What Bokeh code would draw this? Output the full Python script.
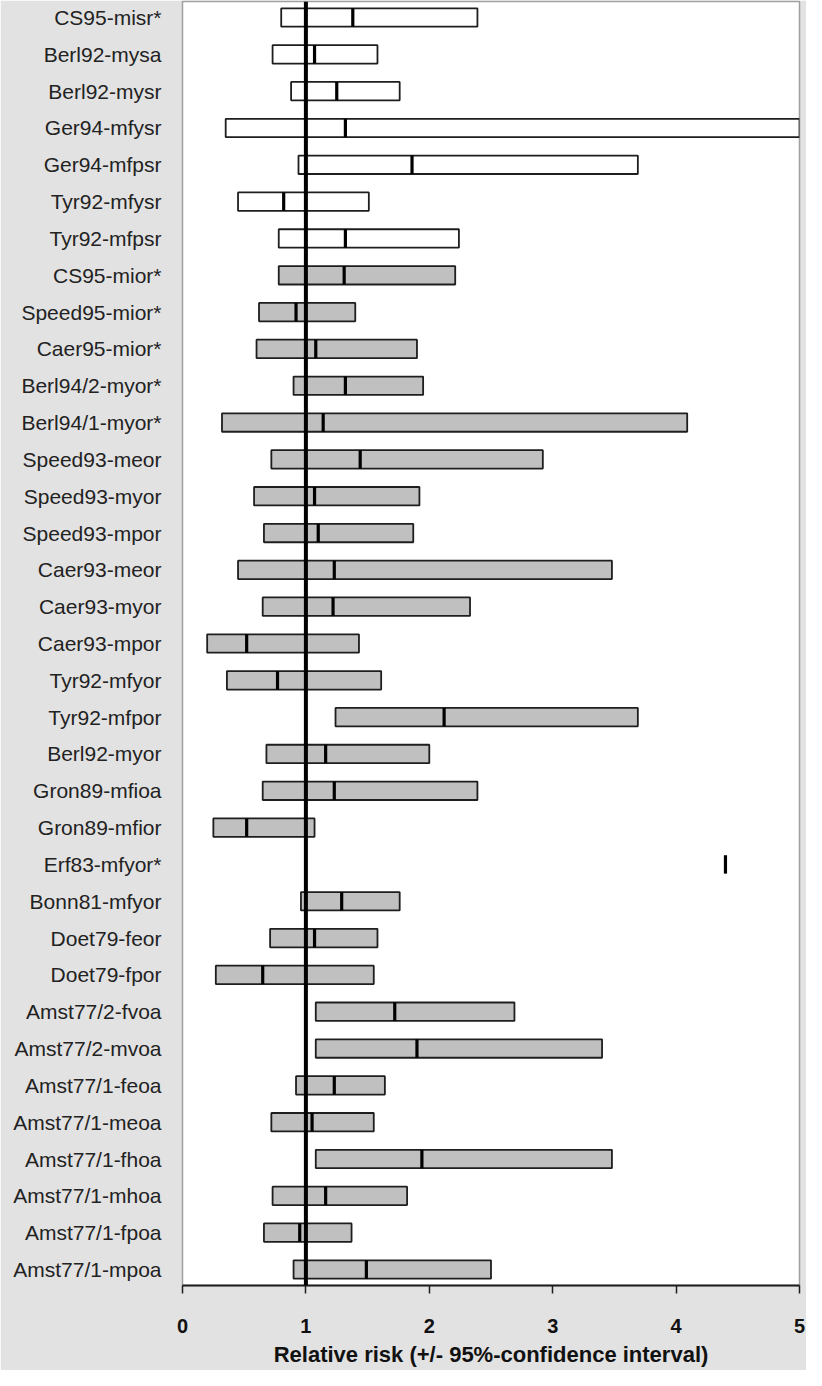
from bokeh.plotting import figure
from bokeh.models import ColumnDataSource, Range1d, FixedTicker, Span, Title
from bokeh.embed import file_html
from bokeh.resources import INLINE

labels = ["CS95-misr*", "Berl92-mysa", "Berl92-mysr", "Ger94-mfysr", "Ger94-mfpsr",
          "Tyr92-mfysr", "Tyr92-mfpsr", "CS95-mior*", "Speed95-mior*", "Caer95-mior*",
          "Berl94/2-myor*", "Berl94/1-myor*", "Speed93-meor", "Speed93-myor", "Speed93-mpor",
          "Caer93-meor", "Caer93-myor", "Caer93-mpor", "Tyr92-mfyor", "Tyr92-mfpor",
          "Berl92-myor", "Gron89-mfioa", "Gron89-mfior", "Erf83-mfyor*", "Bonn81-mfyor",
          "Doet79-feor", "Doet79-fpor", "Amst77/2-fvoa", "Amst77/2-mvoa", "Amst77/1-feoa",
          "Amst77/1-meoa", "Amst77/1-fhoa", "Amst77/1-mhoa", "Amst77/1-fpoa", "Amst77/1-mpoa"]

lower = [0.80, 0.73, 0.88, 0.35, 0.94, 0.45, 0.78, 0.78, 0.62, 0.60,
         0.90, 0.32, 0.72, 0.58, 0.66, 0.45, 0.65, 0.20, 0.36, 1.24,
         0.68, 0.65, 0.25, None, 0.96, 0.71, 0.27, 1.08, 1.08, 0.92,
         0.72, 1.08, 0.73, 0.66, 0.90]

estimate = [1.38, 1.07, 1.25, 1.32, 1.86, 0.82, 1.32, 1.31, 0.92, 1.08,
            1.32, 1.14, 1.44, 1.07, 1.10, 1.23, 1.22, 0.52, 0.77, 2.12,
            1.16, 1.23, 0.52, 4.40, 1.29, 1.07, 0.65, 1.72, 1.90, 1.23,
            1.05, 1.94, 1.16, 0.95, 1.49]

upper = [2.39, 1.58, 1.76, 5.30, 3.69, 1.51, 2.24, 2.21, 1.40, 1.90,
         1.95, 4.09, 2.92, 1.92, 1.87, 3.48, 2.33, 1.43, 1.61, 3.69,
         2.00, 2.39, 1.07, None, 1.76, 1.58, 1.55, 2.69, 3.40, 1.64,
         1.55, 3.48, 1.82, 1.37, 2.50]

group = ["open", "open", "open", "open", "open", "open", "open",
         "filled", "filled", "filled", "filled", "filled", "filled", "filled",
         "filled", "filled", "filled", "filled", "filled", "filled", "filled",
         "filled", "filled", "filled", "filled", "filled", "filled", "filled",
         "filled", "filled", "filled", "filled", "filled", "filled", "filled"]

x_ticks = [0, 1, 2, 3, 4, 5]
reference_value = 1
x_title = "Relative risk (+/- 95%-confidence interval)"

FONT = "Liberation Sans"
fill_for = {"open": "#ffffff", "filled": "#c0c0c0"}

n = len(labels)
ypos = [n - 1 - i for i in range(n)]

bar_idx = [i for i in range(n) if lower[i] is not None and upper[i] is not None]
bars = ColumnDataSource(dict(
    y=[ypos[i] for i in bar_idx],
    left=[lower[i] for i in bar_idx],
    right=[upper[i] for i in bar_idx],
    fill=[fill_for[group[i]] for i in bar_idx],
))
est = ColumnDataSource(dict(y=ypos, x=estimate))

p = figure(width=806, height=1370, output_backend="svg", toolbar_location=None,
           x_range=Range1d(x_ticks[0], x_ticks[-1]),
           y_range=Range1d(-0.435, n - 1 + 0.435),
           min_border_left=182, min_border_right=7, min_border_top=1,
           min_border_bottom=20)

p.background_fill_color = "#ffffff"
p.border_fill_color = "#e2e2e2"
p.outline_line_color = "#a0a0a0"
p.outline_line_width = 1.5
p.xgrid.grid_line_color = None
p.ygrid.grid_line_color = None

p.hbar(y="y", left="left", right="right", height=0.5, source=bars,
       fill_color="fill", line_color="#1e1e1e", line_width=1.8)
p.rect(x="x", y="y", width=3.2, height=0.5, width_units="screen", source=est,
       fill_color="#000000", line_color=None)

p.add_layout(Span(location=reference_value, dimension="height",
                  line_color="#000000", line_width=4))

xa = p.xaxis[0]
xa.ticker = FixedTicker(ticks=x_ticks)
xa.minor_tick_line_color = None
xa.axis_line_color = "#1e1e1e"
xa.axis_line_width = 2
xa.major_tick_line_color = "#1e1e1e"
xa.major_tick_line_width = 1.5
xa.major_tick_in = 0
xa.major_tick_out = 8
xa.major_label_standoff = 25
xa.major_label_text_font = FONT
xa.major_label_text_font_style = "bold"
xa.major_label_text_font_size = "20px"
xa.major_label_text_color = "#111111"

p.add_layout(Title(text=x_title, align="center", text_font=FONT,
                   text_font_style="bold", text_font_size="22px",
                   text_color="#111111", standoff=8), "below")

ya = p.yaxis[0]
ya.ticker = FixedTicker(ticks=ypos)
ya.major_label_overrides = {ypos[i]: labels[i] for i in range(n)}
ya.axis_line_color = None
ya.major_tick_line_color = None
ya.minor_tick_line_color = None
ya.major_tick_in = 0
ya.major_tick_out = 0
ya.major_label_standoff = 21
ya.major_label_text_font = FONT
ya.major_label_text_font_size = "21px"
ya.major_label_text_color = "#222222"

open("out.html", "w").write(file_html(p, INLINE))
